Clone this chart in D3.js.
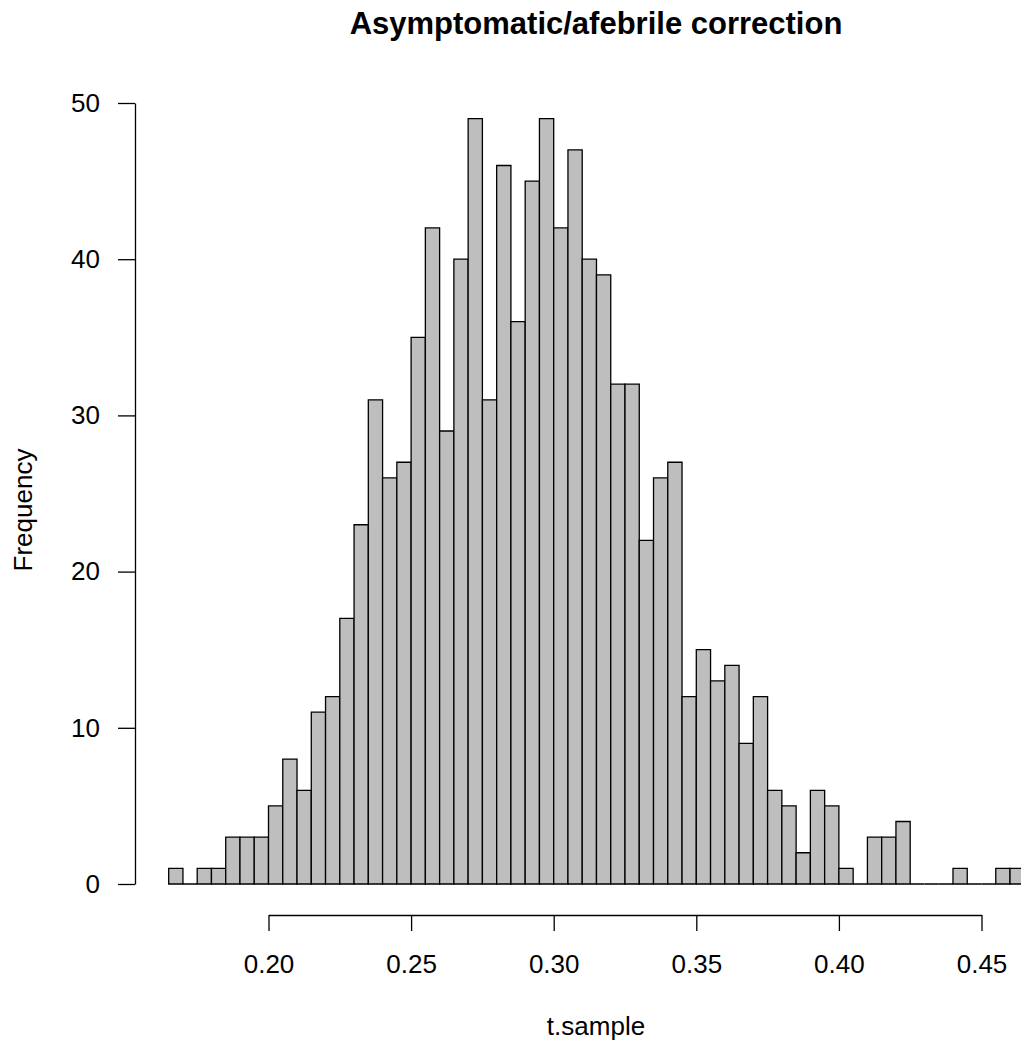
<!DOCTYPE html>
<html>
<head>
<meta charset="utf-8">
<script src="https://cdn.jsdelivr.net/npm/d3@7"></script>
<style>
  body { margin: 0; background: #fff; }
  svg { display: block; font-family: "Liberation Sans", Arial, Helvetica, sans-serif; }
</style>
</head>
<body>
<svg id="chart" width="1021" height="1043"></svg>
<script>
// histogram of t.sample, bins of width 0.005 starting at 0.165
const binStart = 0.165;
const binWidth = 0.005;
const counts = [
    1, 0, 1, 1, 3, 3, 3, 5, 8, 6,
    11, 12, 17, 23, 31, 26, 27, 35, 42, 29,
    40, 49, 31, 46, 36, 45, 49, 42, 47, 40,
    39, 32, 32, 22, 26, 27, 12, 15, 13, 14,
    9, 12, 6, 5, 2, 6, 5, 1, 0, 3,
    3, 4, 0, 0, 0, 1, 0, 0, 1, 1
];
const xTicks = [0.20, 0.25, 0.30, 0.35, 0.40, 0.45];
const yTicks = [0, 10, 20, 30, 40, 50];

const bins = counts.map((c, i) => ({
    x0: binStart + i * binWidth,
    x1: binStart + (i + 1) * binWidth,
    count: c
}));

const svg = d3.select('#chart');

const x = d3.scaleLinear().domain([0.20, 0.45]).range([268.5, 981.5]);
const y = d3.scaleLinear().domain([0, 50]).range([884, 103]);

// bars as closed paths so empty bins still leave a flat line, like R
svg.append('g')
    .selectAll('path')
    .data(bins)
    .enter()
    .append('path')
    .attr('d', d => {
        const x0 = x(d.x0), x1 = x(d.x1), y0 = y(0), y1 = y(d.count);
        return 'M' + x0 + ',' + y0 + 'L' + x0 + ',' + y1 + 'L' + x1 + ',' + y1 + 'L' + x1 + ',' + y0 + 'Z';
    })
    .style('fill', '#bebebe')
    .attr('stroke', '#000')
    .attr('stroke-width', 1.3);

// x axis, drawn below the plot
const xAxis = svg.append('g')
    .attr('transform', 'translate(0,915)')
    .call(d3.axisBottom(x).tickValues(xTicks).tickFormat(d3.format('.2f'))
        .tickSize(16).tickSizeOuter(0).tickPadding(24));
xAxis.select('.domain').attr('stroke', '#000').attr('stroke-width', 1.3);
xAxis.selectAll('.tick line').attr('stroke', '#000').attr('stroke-width', 1.3);
xAxis.selectAll('.tick text')
    .attr('fill', '#000')
    .style('font-size', '26px')
    .style('font-family', '"Liberation Sans", Arial, sans-serif');

// y axis
const yAxis = svg.append('g')
    .attr('transform', 'translate(135,0)')
    .call(d3.axisLeft(y).tickValues(yTicks)
        .tickSize(17).tickSizeOuter(0).tickPadding(18));
yAxis.select('.domain').attr('stroke', '#000').attr('stroke-width', 1.3);
yAxis.selectAll('.tick line').attr('stroke', '#000').attr('stroke-width', 1.3);
yAxis.selectAll('.tick text')
    .attr('fill', '#000')
    .style('font-size', '26px')
    .style('font-family', '"Liberation Sans", Arial, sans-serif');

// labels
svg.append('text')
    .attr('x', 596)
    .attr('y', 34)
    .attr('text-anchor', 'middle')
    .style('font-size', '31px')
    .style('font-weight', 'bold')
    .text('Asymptomatic/afebrile correction');

svg.append('text')
    .attr('x', 596)
    .attr('y', 1035)
    .attr('text-anchor', 'middle')
    .style('font-size', '26px')
    .text('t.sample');

svg.append('text')
    .attr('transform', 'translate(32,510) rotate(-90)')
    .attr('text-anchor', 'middle')
    .style('font-size', '26px')
    .text('Frequency');
</script>
</body>
</html>
